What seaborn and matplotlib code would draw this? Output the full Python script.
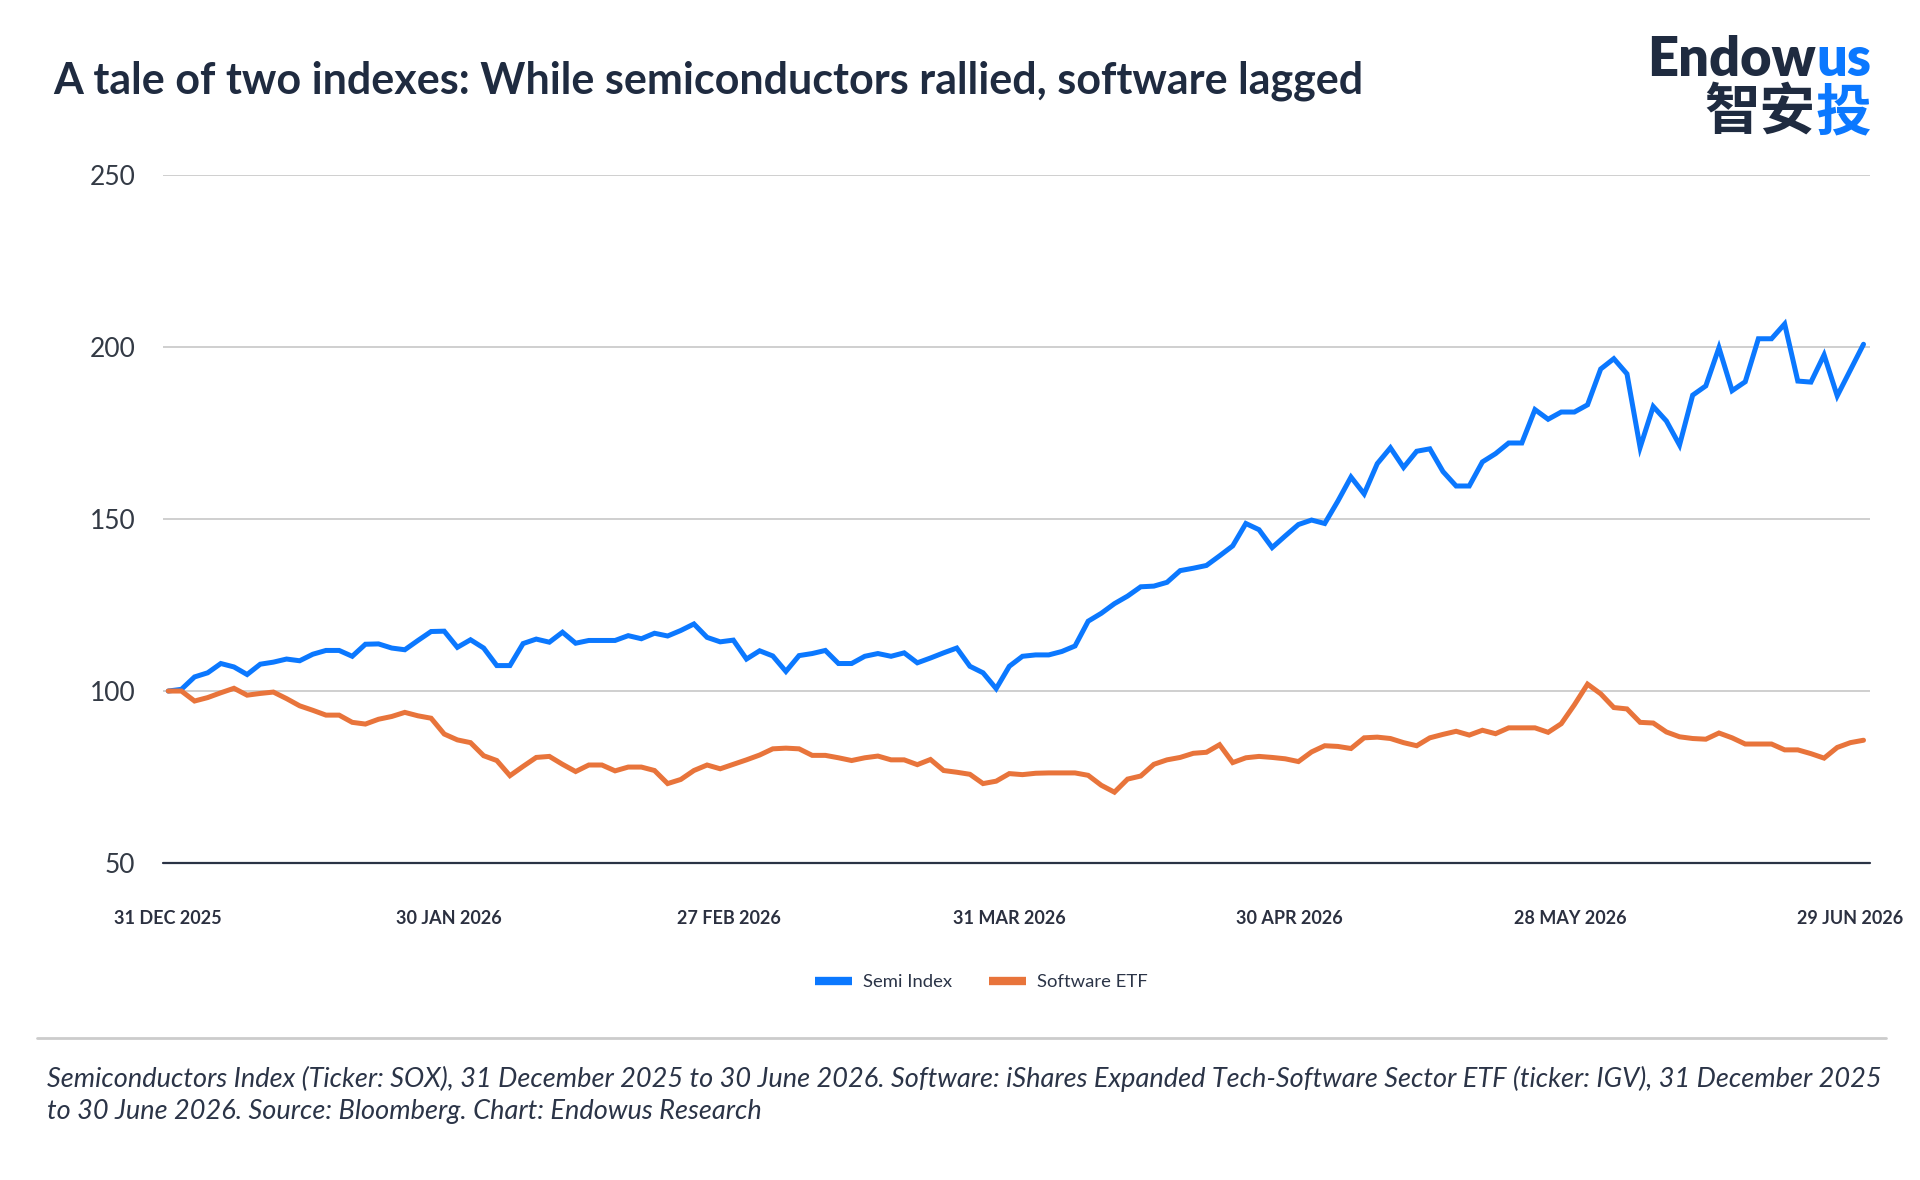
import numpy as np
import pandas as pd
import matplotlib
matplotlib.use("Agg")
import matplotlib.pyplot as plt
from matplotlib.lines import Line2D
import seaborn as sns

# values, one per weekday from 31 Dec 2025 to 30 Jun 2026
semi = [100.0, 100.5, 104.1, 105.3, 108.0, 107.0, 104.8, 107.8, 108.4, 109.3,
        108.8, 110.7, 111.8, 111.8, 110.1, 113.6, 113.7, 112.5, 112.0, 114.7,
        117.3, 117.4, 112.7, 114.9, 112.5, 107.4, 107.4, 113.8, 115.1, 114.2,
        117.1, 113.9, 114.7, 114.7, 114.7, 116.1, 115.2, 116.8, 116.0, 117.6,
        119.5, 115.6, 114.3, 114.8, 109.3, 111.7, 110.2, 105.7, 110.3, 110.9,
        111.8, 108.0, 108.0, 110.1, 110.9, 110.1, 111.1, 108.2, 109.6, 111.1,
        112.5, 107.2, 105.3, 100.7, 107.2, 110.1, 110.5, 110.5, 111.5, 113.1,
        120.3, 122.6, 125.4, 127.6, 130.3, 130.5, 131.6, 135.0, 135.7, 136.5,
        139.3, 142.2, 148.7, 146.9, 141.7, 145.1, 148.4, 149.7, 148.7, 155.2,
        162.2, 157.3, 166.1, 170.7, 165.0, 169.7, 170.4, 163.8, 159.6, 159.6,
        166.6, 169.0, 172.1, 172.1, 181.8, 179.0, 181.1, 181.1, 183.2, 193.6,
        196.6, 192.2, 170.8, 182.7, 178.5, 171.5, 186.0, 188.7, 199.8, 187.3,
        189.9, 202.4, 202.4, 206.7, 190.1, 189.8, 197.7, 185.8, 193.3, 200.8]

software = [100.0, 100.0, 97.1, 98.1, 99.5, 100.8, 98.8, 99.3, 99.7, 97.8,
            95.7, 94.4, 93.0, 93.0, 90.9, 90.4, 91.8, 92.6, 93.8, 92.8,
            92.1, 87.5, 85.8, 85.0, 81.2, 79.8, 75.4, 78.1, 80.7, 81.0,
            78.7, 76.6, 78.5, 78.5, 76.8, 77.9, 77.9, 76.9, 73.1, 74.3,
            76.9, 78.5, 77.4, 78.7, 80.0, 81.4, 83.2, 83.4, 83.2, 81.3,
            81.3, 80.6, 79.8, 80.6, 81.1, 80.0, 80.0, 78.6, 80.1, 76.9,
            76.4, 75.8, 73.1, 73.8, 76.0, 75.7, 76.1, 76.2, 76.2, 76.2,
            75.5, 72.6, 70.6, 74.4, 75.3, 78.7, 80.0, 80.7, 81.9, 82.2,
            84.4, 79.2, 80.6, 81.0, 80.7, 80.3, 79.5, 82.3, 84.1, 83.9,
            83.3, 86.4, 86.6, 86.2, 85.0, 84.1, 86.4, 87.4, 88.3, 87.2,
            88.6, 87.6, 89.3, 89.3, 89.3, 88.0, 90.5, 96.0, 102.0, 99.2,
            95.2, 94.8, 90.9, 90.7, 88.1, 86.7, 86.2, 86.0, 87.8, 86.4,
            84.6, 84.6, 84.6, 82.9, 82.9, 81.8, 80.5, 83.6, 85.0, 85.7]

series_names = ["Semi Index", "Software ETF"]
tick_labels = ["31 DEC 2025", "30 JAN 2026", "27 FEB 2026", "31 MAR 2026",
               "30 APR 2026", "28 MAY 2026", "29 JUN 2026"]
y_ticks = [50, 100, 150, 200, 250]

BLUE = "#0b78ff"
ORANGE = "#e8743b"
NAVY = "#1f2b40"
TEXT = "#2b3447"

day = np.arange(len(semi))
df = pd.DataFrame({
    "day": np.concatenate([day, day]),
    "value": semi + software,
    "series": [series_names[0]] * len(semi) + [series_names[1]] * len(software),
})

sns.set_theme(style="white")
plt.rcParams["font.family"] = ["Lato", "DejaVu Sans"]
plt.rcParams["lines.solid_joinstyle"] = "miter"

fig = plt.figure(figsize=(19.2, 11.8), dpi=100)
ax = fig.add_axes([0.0849, 0.2686, 0.974 - 0.0849, 0.8517 - 0.2686])

sns.lineplot(data=df, x="day", y="value", hue="series", hue_order=series_names,
             palette=[BLUE, ORANGE], linewidth=3.6, legend=False, ax=ax)

ax.set_xlim(-0.4, 129.5)
ax.set_ylim(50, 250)
ax.set_yticks(y_ticks)
ax.set_yticklabels([str(v) for v in y_ticks], fontsize=19, color="#333a45")
ax.set_xticks(np.linspace(0, 128, len(tick_labels)))
ax.set_xticklabels(tick_labels, fontsize=13, fontweight="bold", color="#2b3040")
ax.tick_params(axis="y", length=0, pad=20)
ax.tick_params(axis="x", length=0, pad=34)
ax.set_xlabel("")
ax.set_ylabel("")
for s in ax.spines.values():
    s.set_visible(False)
ax.yaxis.grid(True, color="#cfcfcf", linewidth=1.4, zorder=0)
ax.xaxis.grid(False)
ax.axhline(50, color="#2a3345", linewidth=1.6, zorder=1, clip_on=False)

# title
fig.text(53 / 1920, 1 - 81 / 1180, "A tale of two indexes: While semiconductors rallied, software lagged",
         fontsize=31, fontweight="bold", color=NAVY, ha="left", va="center")

# logo
right = 1871 / 1920
fig.canvas.draw()
r = fig.canvas.get_renderer()
t_us = fig.text(right, 1 - 60 / 1180, "us", fontsize=39, fontweight="heavy", color=BLUE,
                ha="right", va="center")
w = t_us.get_window_extent(r).width / 1920
fig.text(right - w, 1 - 60 / 1180, "Endow", fontsize=39, fontweight="heavy", color=NAVY,
         ha="right", va="center")
t_tou = fig.text(right, 1 - 113 / 1180, "投", fontsize=40, fontweight="bold", color=BLUE,
                 ha="right", va="center", family=["Noto Sans CJK SC", "DejaVu Sans"])
w2 = t_tou.get_window_extent(r).width / 1920
fig.text(right - w2, 1 - 113 / 1180, "智安", fontsize=40, fontweight="bold", color=NAVY,
         ha="right", va="center", family=["Noto Sans CJK SC", "DejaVu Sans"])

# legend
handles = [Line2D([0], [0], color=c, linewidth=6, solid_capstyle="butt") for c in [BLUE, ORANGE]]
fig.legend(handles, series_names, loc="center", bbox_to_anchor=(0.511, 1 - 982 / 1180),
           ncol=2, frameon=False, fontsize=13.3, handlelength=2.0, handletextpad=0.6,
           columnspacing=2.0, labelcolor=TEXT)

# separator and footnote
fig.add_artist(Line2D([37 / 1920, 1886 / 1920], [1 - 1038 / 1180] * 2, color="#cccccc", linewidth=2))
fig.text(47 / 1920, 1 - 1079 / 1180,
         "Semiconductors Index (Ticker: SOX), 31 December 2025 to 30 June 2026. Software: iShares Expanded "
         "Tech-Software Sector ETF (ticker: IGV), 31 December 2025",
         fontsize=19.5, style="italic", color=TEXT, ha="left", va="center")
fig.text(47 / 1920, 1 - 1111 / 1180,
         "to 30 June 2026. Source: Bloomberg. Chart: Endowus Research",
         fontsize=19.5, style="italic", color=TEXT, ha="left", va="center")

fig.savefig("out.png", dpi=100, facecolor="white")
